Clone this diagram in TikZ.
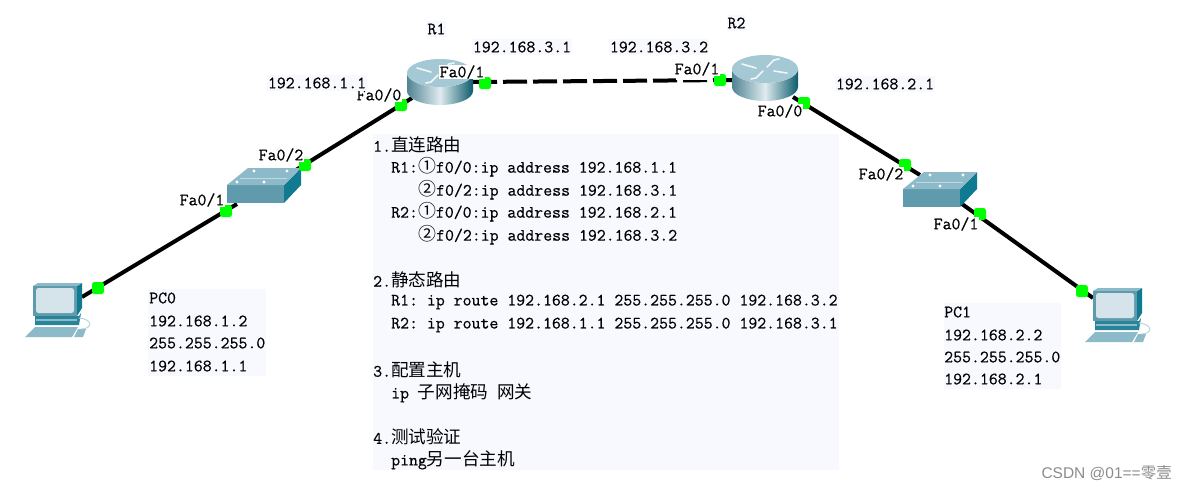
\documentclass[tikz,border=0pt]{standalone}
\usepackage{fontspec}
\newfontfamily\cjk{Noto Sans CJK SC}
\setmonofont[FakeBold=0.5]{Latin Modern Mono}
\setsansfont{Liberation Sans}
\newcommand{\tx}{\fontsize{17.34}{18}\selectfont\ttfamily}
\newcommand{\zh}[1]{{\cjk\fontsize{17.6}{18}\selectfont #1}}
\newcommand{\zc}[1]{{\cjk\fontsize{17.9}{18}\selectfont\makebox[17.92pt]{#1}}}
\definecolor{panel}{HTML}{F8F9FF}
\definecolor{tealA}{HTML}{5F9BAD}
\definecolor{tealB}{HTML}{0F7A90}
\definecolor{tealC}{HTML}{8DBAC8}
\definecolor{tealD}{HTML}{D5E4EA}
\definecolor{tealE}{HTML}{A4C8D4}
\usetikzlibrary{calc}
\tikzset{
  txt/.style={anchor=west,inner sep=0pt,font=\tx,text=black},
  lbl/.style={txt,anchor=center,fill=panel,inner xsep=0.5pt,inner ysep=2pt},
  port/.style={txt,anchor=center,fill=white,inner sep=0.5pt},
  link/.style={line width=4pt,black},
  dot/.style={fill=green,draw=none,rounded corners=2.5pt,minimum size=12pt,inner sep=0pt},
  swtop/.style={fill=tealC,draw=none},
  panelbox/.style={fill=panel,draw=none},
  pics/router/.style={code={
    \path[left color=tealA!85!black,right color=tealB!75!black,middle color=white!80!tealA,draw=none]
      (-33,-1) -- (-33,17) arc[start angle=180,end angle=0,x radius=33,y radius=14] -- (33,-1)
      arc[start angle=0,end angle=180,x radius=33,y radius=14] -- cycle;
    \fill[tealE] (0,-1) ellipse[x radius=33,y radius=14];
    \draw[white!85!tealE,line width=1.6pt,line cap=round]
      (-23,-6) -- (-9,-2) (9,1) -- (22,3) (2,-3) -- (9,-10) -- (14,-11) (-2,1) -- (-9,8) -- (-14,9);
  }},
  pics/switchbox/.style={code={
    \fill[tealA] (0,0) rectangle (57,18);
    \fill[tealB] (57,0) -- (74,-17) -- (74,0) -- (57,18) -- cycle;
    \fill[swtop] (0,0) -- (21,-17) -- (74,-17) -- (57,0) -- cycle;
    \fill[white] (10,-3) circle[radius=1.6] (27,-14) circle[radius=1.6] (37,-3) circle[radius=1.6] (60,-14) circle[radius=1.6];
    \draw[tealE!70!white,line width=.6pt] (13,-7) -- (60,-7);
  }},
  pics/pcunit/.style={code={
    % origin at the monitor's top-left corner
    \fill[tealB!70!tealA] (2,33) -- (46,33) -- (48,30) -- (46,42) -- (2,42) -- cycle;
    \fill[tealC] (3,36) -- (44,36) -- (44,38) -- (3,38) -- cycle;
    \fill[tealC] (-8,54) -- (2,44) -- (45,44) -- (39,54) -- cycle;
    \fill[tealC] (45,46) -- (53,46) -- (50,54) -- (41,54) -- cycle;
    \draw[tealC!60!white,line width=1pt] (48,46) .. controls (60,46) and (60,36) .. (46,35);
    \fill[tealB] (44,3) -- (49,0) -- (49,25) -- (44,33) -- cycle;
    \fill[tealC] (0,3) -- (5,0) -- (49,0) -- (44,3) -- cycle;
    \fill[tealA] (0,3) rectangle (44,33);
    \fill[tealD,rounded corners=2.5pt] (3,5) rectangle (41,30);
  }}
}
\begin{document}
\begin{tikzpicture}[x=1pt,y=-1pt]
\useasboundingbox (0,0) rectangle (1188,491);
\fill[white] (0,0) rectangle (1188,491);
% anchors of the devices
\coordinate (pc0) at (82,297);
\coordinate (sw0a) at (237,204);
\coordinate (sw0b) at (296,170);
\coordinate (r1a) at (412,98);
\coordinate (r1b) at (473,82);
\coordinate (r2a) at (732,80);
\coordinate (r2b) at (793,97);
\coordinate (sw1a) at (920,175);
\coordinate (sw1b) at (962,204);
\coordinate (pc1) at (1093,298);
% panels
\fill[panelbox] (373,134) rectangle (839,470);
\fill[panelbox] (148,289) rectangle (266,376);
\fill[panelbox] (944,303) rectangle (1061,389);
% links
\draw[link] (pc0) -- (sw0a);
\draw[link] (sw0b) -- (r1a);
\draw[link,dash pattern=on 24pt off 6pt] (r1b) -- (r2a);
\draw[link] (r2b) -- (sw1a);
\draw[link] (sw1b) -- (pc1);
% devices
\pic at (440,74) {router};
\pic at (765,70) {router};
\pic at (227,185) {switchbox};
\pic at (903,189) {switchbox};
\pic at (33,283) {pcunit};
\pic at (1093,288) {pcunit};
% ports
\node[dot] (d1) at (98,288) {};
\node[dot] (d2) at (226,211) {};
\node[dot] (d3) at (305,165) {};
\node[dot] (d4) at (401,105) {};
\node[dot] (d5) at (485,83) {};
\node[dot] (d6) at (720,80) {};
\node[dot] (d7) at (804,103) {};
\node[dot] (d8) at (905,165) {};
\node[dot] (d9) at (980,214) {};
\node[dot] (d10) at (1082,291) {};
% port names
\fill[white] (676,68) rectangle (712,80);
\node[port] (p1) at (379,95) {Fa0/0};
\node[port] (p2) at (462,72) {Fa0/1};
\node[port] (p3) at (281,155) {Fa0/2};
\node[port] (p4) at (202,200) {Fa0/1};
\node[port] (p5) at (697,69) {Fa0/1};
\node[port] (p6) at (780,111) {Fa0/0};
\node[port] (p7) at (881,174) {Fa0/2};
\node[port] (p8) at (956,224) {Fa0/1};
% labels
\node[lbl] (r1) at (436.5,29) {R1};
\node[lbl] (r2) at (736.5,23) {R2};
\node[lbl] (a1) at (317,83) {192.168.1.1};
\node[lbl] (a2) at (522,47) {192.168.3.1};
\node[lbl] (a3) at (659,47) {192.168.3.2};
\node[lbl] (a4) at (885,84) {192.168.2.1};
% PC text
\node[txt] (t01) at (149,298) {PC0};
\node[txt] (t02) at (149,321) {192.168.1.2};
\node[txt] (t03) at (149,343) {255.255.255.0};
\node[txt] (t04) at (149,366) {192.168.1.1};
\node[txt] (t11) at (944,312) {PC1};
\node[txt] (t12) at (944,335) {192.168.2.2};
\node[txt] (t13) at (944,357) {255.255.255.0};
\node[txt] (t14) at (944,379) {192.168.2.1};
% main text
\node[txt] (m1) at (373,145) {1.\zh{直连路由}};
\node[txt] (m2) at (391,167) {R1:\zc{①}f0/0:ip address 192.168.1.1};
\node[txt] (m3) at (418,190) {\zc{②}f0/2:ip address 192.168.3.1};
\node[txt] (m4) at (391,212) {R2:\zc{①}f0/0:ip address 192.168.2.1};
\node[txt] (m5) at (418,235) {\zc{②}f0/2:ip address 192.168.3.2};
\node[txt] (m6) at (373,280) {2.\zh{静态路由}};
\node[txt] (m7) at (391,302) {R1: ip route 192.168.2.1 255.255.255.0 192.168.3.2};
\node[txt] (m8) at (391,325) {R2: ip route 192.168.1.1 255.255.255.0 192.168.3.1};
\node[txt] (m9) at (373,370) {3.\zh{配置主机}};
\node[txt] (m10) at (391,393) {ip \zh{子网掩码} \zh{网关}};
\node[txt] (m11) at (373,437) {4.\zh{测试验证}};
\node[txt] (m12) at (391,460) {ping\zh{另一台主机}};
% watermark
\node[anchor=east,inner sep=0pt,text=black!45,font=\sffamily\fontsize{15.5}{16}\selectfont] (wm) at (1172,473) {CSDN @01==\zh{\fontsize{15.5}{16}\selectfont 零壹}};
\end{tikzpicture}
\end{document}
